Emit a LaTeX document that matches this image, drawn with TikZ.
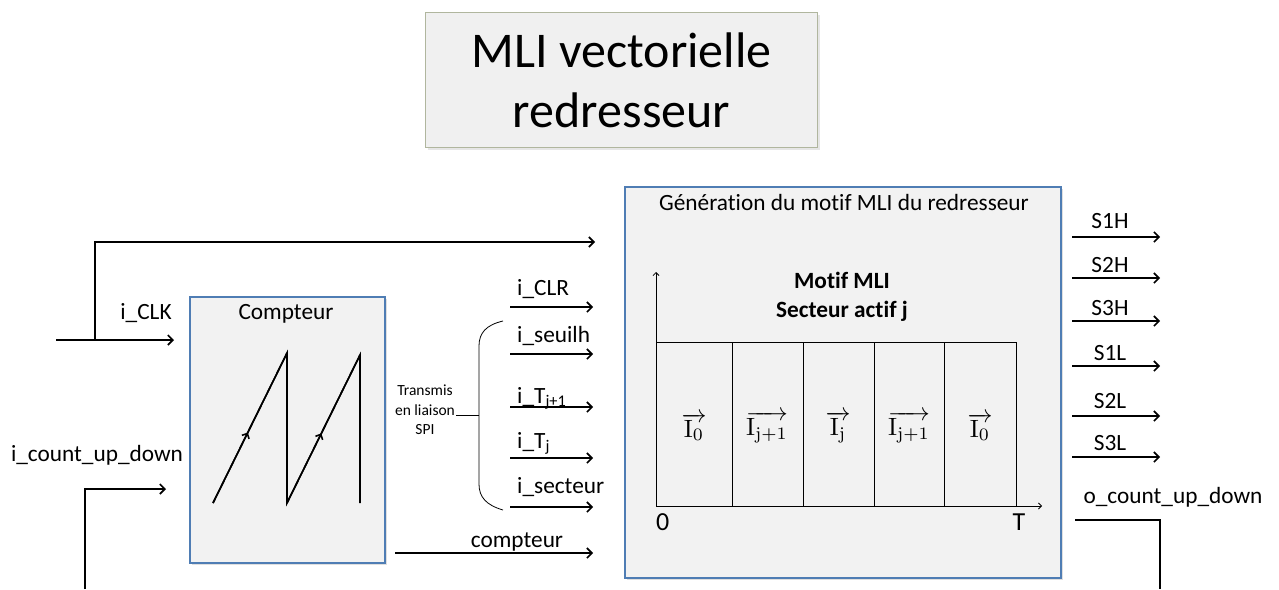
\documentclass[tikz,border=0pt]{standalone}
\usepackage{graphicx}
\usepackage[no-math]{fontspec}
\setmainfont{Carlito}[Ligatures=NoCommon]
\usetikzlibrary{arrows.meta,shadows,decorations.markings}
\definecolor{bleubord}{RGB}{79,125,180}
\definecolor{fondbloc}{RGB}{242,242,242}
\definecolor{bordtitre}{RGB}{176,182,158}
\tikzset{
  bloc/.style={draw=bleubord,line width=1.5pt,fill=fondbloc,
    drop shadow={opacity=.25,shadow xshift=2pt,shadow yshift=-2pt}},
  sig/.style={line width=1.6pt,-{Straight Barb[length=5pt,width=10pt]}},
  fin/.style={line width=.8pt},
  axe/.style={line width=.8pt,-{Straight Barb[length=3pt,width=6pt]}},
  lab/.style={font=\fontsize{23.3}{27}\selectfont,anchor=base,inner sep=0pt},
  montee/.style={postaction={decorate},decoration={markings,
    mark=at position .47 with {\arrow[line width=1.6pt]{Straight Barb[length=4pt,width=8pt]}}}}
}
\begin{document}
\begin{tikzpicture}[x=1pt,y=-1pt]
                    \useasboundingbox (0,0) rectangle (1279,589);
                    \node[draw=bordtitre,line width=1.2pt,fill=black!6,anchor=north west,
                      minimum width=392pt,minimum height=135pt,align=center,
                      font=\fontsize{50}{60}\selectfont,
                      drop shadow={opacity=.2,shadow xshift=2pt,shadow yshift=-2pt}]
                      (titre) at (425,12) {MLI vectorielle\\redresseur};
                    \node[bloc,anchor=north west,minimum width=195pt,minimum height=266pt](cpt)at(189,296){};
                    \node[bloc,anchor=north west,minimum width=436pt,minimum height=391pt](mli)at(624,186){};
                    \node[lab](cptnom)at(286,319){Compteur};
                    \node[lab](mlinom)at(844,210){Génération du motif MLI du redresseur};
                    \coordinate(clkin)at(56,340);
                    \coordinate(clkbr)at(95,340);
                    \coordinate(clkcpt)at(174,340);
                    \coordinate(clkmli)at(595,242);
                    \coordinate(udin)at(85,589);
                    \coordinate(udcpt)at(166,489);
                    \draw[sig](clkin)--(clkcpt);
                    \draw[sig](clkbr)|-(clkmli);
                    \draw[sig](udin)|-(udcpt);
                    \node[lab](clk)at(146,319){i\_CLK};
                    \node[lab](ud)at(97,461){i\_count\_up\_down};
                    \coordinate(s0)at(213,503);
                    \coordinate(s1)at(287,353);
                    \coordinate(s2)at(287,503);
                    \coordinate(s3)at(360,355);
                    \coordinate(s4)at(360,503);
                    \draw[line width=1.6pt](s0)--(s1)--(s2)--(s3)--(s4);
                    \draw[line width=1.6pt,montee](s0)--(s1);
                    \draw[line width=1.6pt,montee](s2)--(s3);
                    \foreach \nom/\y/\b/\txt in {clr/307/295/i\_CLR,seuil/354/342/i\_seuilh,
                      tjp/407/403/i\_T\textsubscript{j+1},tj/458/448/i\_T\textsubscript{j},
                      sect/507/493/i\_secteur}{
                      \coordinate(\nom-a)at(510,\y);
                      \coordinate(\nom-b)at(593,\y);
                      \draw[sig](\nom-a)--(\nom-b);
                      \node[lab,anchor=base west](\nom)at(517,\b){\txt};
                    }
                    \coordinate(cpta)at(395,553);
                    \coordinate(cptb)at(593,553);
                    \draw[sig](cpta)--(cptb);
                    \node[lab](cptsig)at(517,547){compteur};
                    \node[align=center,inner sep=0pt,font=\fontsize{15.5}{19.5}\selectfont](spi)at(425,410){Transmis\\en liaison\\SPI};
                    \coordinate(acc)at(479,415);
                    \draw[fin](503,321)..controls(486,325)and(479,333)..(479,346)--(479,484)
                      ..controls(479,497)and(486,505)..(503,510);
                    \draw[fin](acc)--++(-23,0);
                    \coordinate(O)at(656,506);
                    \draw[axe](O)--(656,272);
                    \draw[axe](O)--(1042,506);
                    \draw[fin](O)rectangle(1016,342);
                    \foreach \x in {732,803,874,944}{\draw[fin](\x,342)--(\x,506);}
                    \node[lab,font=\bfseries\fontsize{23.3}{27}\selectfont](motif)at(842,288){Motif MLI};
                    \node[lab,font=\bfseries\fontsize{23.3}{27}\selectfont](secteur)at(842,317){Secteur actif j};
                    \foreach \nom/\x/\v in {v1/694/\mathrm{I}_0,v2/767/\mathrm{I}_{\mathrm{j+1}},
                      v3/838/\mathrm{I}_{\mathrm{j}},v4/909/\mathrm{I}_{\mathrm{j+1}},v5/980/\mathrm{I}_0}{
                      \node[inner sep=0pt](\nom)at(\x,427){\scalebox{2.5}{$\overrightarrow{\v}$}};
                    }
                    \node[lab,anchor=base west,font=\fontsize{26}{30}\selectfont](zero)at(656,530){0};
                    \node[lab,font=\fontsize{26}{30}\selectfont](per)at(1019,530){T};
                    \foreach \s/\y/\b in {S1H/237/228,S2H/278/272,S3H/321/315,S1L/366/360,S2L/416/408,S3L/457/450}{
                      \coordinate(\s-a)at(1072,\y);
                      \coordinate(\s-b)at(1160,\y);
                      \draw[sig](\s-a)--(\s-b);
                      \node[lab](\s)at(1110,\b){\s};
                    }
                    \coordinate(uda)at(1075,520);
                    \coordinate(udb)at(1160,589);
                    \draw[line width=1.6pt](uda)-|(udb);
                    \node[lab](oud)at(1173,503){o\_count\_up\_down};
\end{tikzpicture}
\end{document}
